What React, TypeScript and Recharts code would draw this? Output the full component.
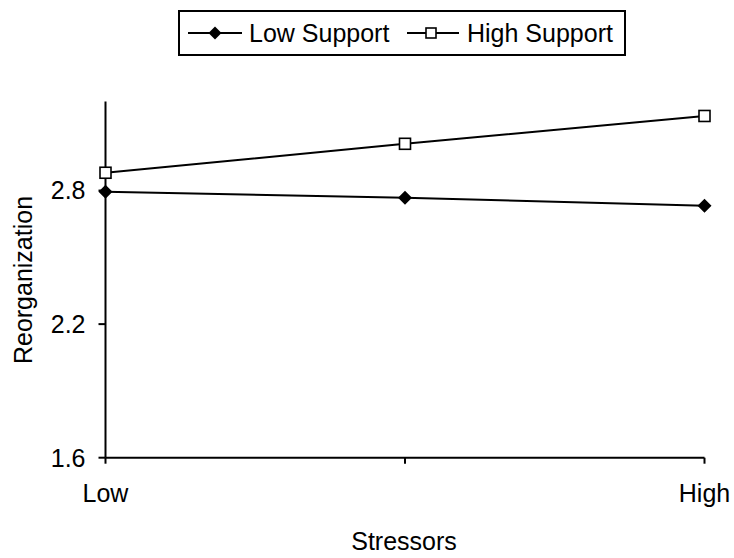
import React from 'react';
import { LineChart, Line, XAxis, YAxis, Legend } from 'recharts';

const categories = ['Low', '', 'High'];
const lowSupport = [2.795, 2.768, 2.732];
const highSupport = [2.88, 3.01, 3.135];
const yTicks = [1.6, 2.2, 2.8];

const data = categories.map((stress, i) => ({
  stress,
  low: lowSupport[i],
  high: highSupport[i],
}));

const FONT = '"Liberation Sans", Arial, sans-serif';

const Diamond = ({ cx, cy, size = 7 }: { cx: number; cy: number; size?: number }) => (
  <path
    d={`M${cx},${cy - size} L${cx + size},${cy} L${cx},${cy + size} L${cx - size},${cy} Z`}
    fill="#000"
  />
);

const Square = ({ cx, cy, size = 5.5 }: { cx: number; cy: number; size?: number }) => (
  <rect
    x={cx - size}
    y={cy - size}
    width={size * 2}
    height={size * 2}
    fill="#fff"
    stroke="#000"
    strokeWidth={1.6}
  />
);

const renderLegend = () => (
  <svg width={448} height={46} style={{ display: 'block' }}>
    <rect x={1} y={1} width={446} height={44} fill="#fff" stroke="#000" strokeWidth={2} />
    <line x1={10} y1={23} x2={64} y2={23} stroke="#000" strokeWidth={2} />
    <Diamond cx={37} cy={23} size={6.5} />
    <text x={71} y={32} fontSize={25} fontFamily={FONT} fill="#000">Low Support</text>
    <line x1={229} y1={23} x2={281} y2={23} stroke="#000" strokeWidth={2} />
    <Square cx={253} cy={23} size={5} />
    <text x={289} y={32} fontSize={25} fontFamily={FONT} fill="#000">High Support</text>
  </svg>
);

const App = () => {
  const tickStyle = { fontSize: 25, fontFamily: FONT, fill: '#000' };
  return (
    <div style={{ position: 'absolute', left: 0, top: 0, width: 734, height: 558, background: '#fff' }}>
      <LineChart
        width={734}
        height={558}
        data={data}
        margin={{ top: 101.5, right: 29.5, bottom: 60.3, left: 25.5 }}
      >
        <XAxis
          dataKey="stress"
          height={40}
          interval={0}
          tickLine={{ stroke: '#000', strokeWidth: 2 }}
          axisLine={{ stroke: '#000', strokeWidth: 2 }}
          tickSize={6}
          tickMargin={21}
          tick={tickStyle}
          label={{
            content: () => (
              <text x={404} y={550} textAnchor="middle" fontSize={25} fontFamily={FONT} fill="#000">
                Stressors
              </text>
            ),
          }}
        />
        <YAxis
          width={80}
          domain={[1.6, 3.2]}
          ticks={yTicks}
          tickFormatter={(v: number) => v.toFixed(1)}
          tickLine={{ stroke: '#000', strokeWidth: 2 }}
          axisLine={{ stroke: '#000', strokeWidth: 2 }}
          tickSize={7}
          tickMargin={13}
          tick={tickStyle}
          allowDataOverflow
          label={{
            content: () => (
              <text
                x={32}
                y={280}
                transform="rotate(-90 32 280)"
                textAnchor="middle"
                fontSize={25}
                fontFamily={FONT}
                fill="#000"
              >
                Reorganization
              </text>
            ),
          }}
        />
        <Legend
          layout="horizontal"
          verticalAlign="middle"
          align="center"
          content={renderLegend}
          wrapperStyle={{ top: 10, left: 178, width: 448, height: 46 }}
        />
        <Line
          dataKey="low"
          name="Low Support"
          stroke="#000"
          strokeWidth={2}
          isAnimationActive={false}
          dot={(p: any) => <Diamond key={`l${p.index}`} cx={p.cx} cy={p.cy} />}
          activeDot={false}
        />
        <Line
          dataKey="high"
          name="High Support"
          stroke="#000"
          strokeWidth={2}
          isAnimationActive={false}
          dot={(p: any) => <Square key={`h${p.index}`} cx={p.cx} cy={p.cy} />}
          activeDot={false}
        />
      </LineChart>
    </div>
  );
};

export default App;
